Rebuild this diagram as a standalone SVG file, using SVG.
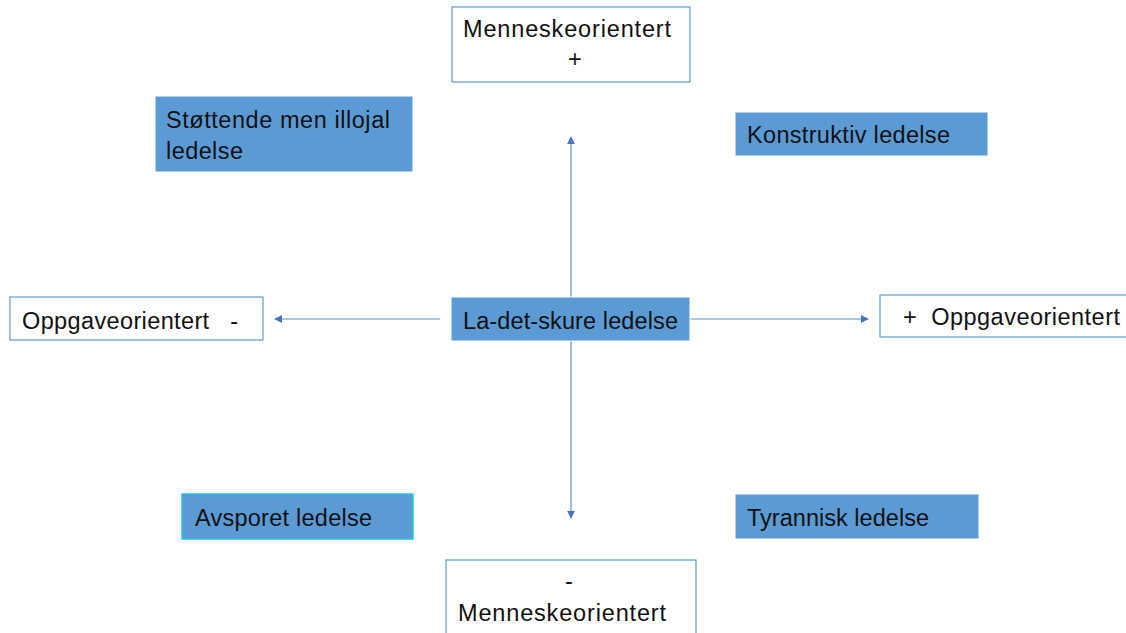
<svg xmlns="http://www.w3.org/2000/svg" width="1126" height="633" viewBox="0 0 1126 633">
<style>
.w{fill:#fff;stroke:#5b9bd5;stroke-width:1.2}
.b{fill:#5b9bd5;stroke:#fff;stroke-width:1}
text{font-family:"Liberation Sans",Arial,sans-serif;font-size:23.5px;fill:#111}
.c{stroke:#5b8fd0;stroke-width:1.2;fill:none}
</style>
<defs>
<marker id="a" viewBox="0 0 10 10" refX="9" refY="5" markerWidth="8" markerHeight="8" markerUnits="userSpaceOnUse" orient="auto"><path d="M0,0L10,5L0,10z" fill="#4472c4"/></marker>
</defs>
<rect width="1126" height="633" fill="#fff"/>
<g id="connectors">
<line class="c" x1="571" y1="297" x2="571" y2="137" marker-end="url(#a)"/>
<line class="c" x1="571" y1="341" x2="571" y2="518" marker-end="url(#a)"/>
<line class="c" x1="440" y1="319" x2="275" y2="319" marker-end="url(#a)"/>
<line class="c" x1="690" y1="319" x2="868" y2="319" marker-end="url(#a)"/>
</g>
<g id="top"><rect class="w" x="452" y="7" width="238" height="75"/><text x="463" y="37" textLength="208">Menneskeorientert</text><text x="568" y="67">+</text></g>
<g id="stottende"><rect class="b" x="155" y="96" width="258" height="76"/><text x="166" y="128" textLength="224">Støttende men illojal</text><text x="166" y="159" textLength="77">ledelse</text></g>
<g id="konstruktiv"><rect class="b" x="735" y="112" width="253" height="44"/><text x="747" y="143" textLength="203">Konstruktiv ledelse</text></g>
<g id="left"><rect class="w" x="10" y="297" width="253" height="43"/><text x="22" y="329" xml:space="preserve" textLength="216">Oppgaveorientert   -</text></g>
<g id="center"><rect class="b" x="451" y="297" width="239" height="44"/><text x="463" y="329" textLength="215">La-det-skure ledelse</text></g>
<g id="right"><rect class="w" x="880" y="295" width="250" height="42"/><text x="903" y="325" xml:space="preserve" textLength="217">+  Oppgaveorientert</text></g>
<g id="avsporet"><rect x="182" y="494" width="231" height="45" fill="#5b9bd5" stroke="#22c0f0" stroke-width="1.5"/><text x="195" y="526" textLength="177">Avsporet ledelse</text></g>
<g id="tyrannisk"><rect class="b" x="735" y="494" width="244" height="45"/><text x="747" y="526" textLength="182">Tyrannisk ledelse</text></g>
<g id="bottom"><rect class="w" x="446" y="560" width="250" height="80"/><text x="565" y="589">-</text><text x="458" y="621" textLength="208">Menneskeorientert</text></g>
</svg>
